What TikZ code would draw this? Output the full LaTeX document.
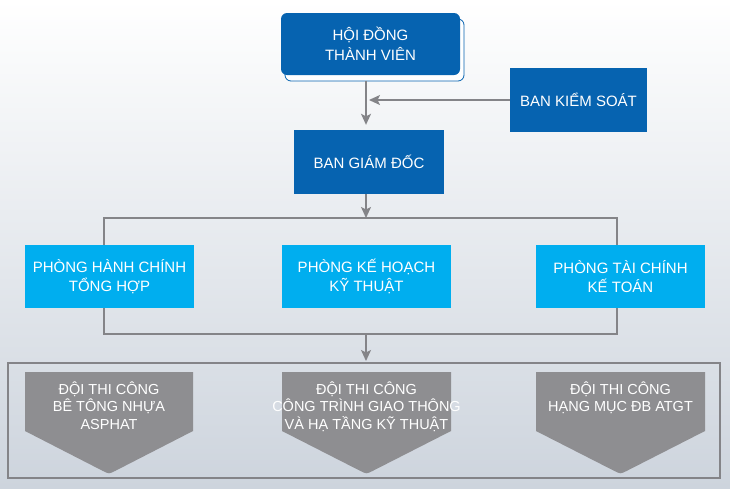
\documentclass[tikz,border=0pt]{standalone}
\usepackage{fontspec}
\setmainfont{Liberation Sans}
\usetikzlibrary{arrows.meta,positioning}
\definecolor{darkblue}{RGB}{6,99,176}
\definecolor{lightblue}{RGB}{0,174,239}
\definecolor{teamgray}{RGB}{142,142,145}
\definecolor{linegray}{RGB}{132,132,136}
\definecolor{bgmid}{RGB}{239,242,246}
\definecolor{bgbottom}{RGB}{205,212,221}
\tikzset{
  boxfont/.style={font=\fontsize{15}{19.5}\selectfont},
  bigbox/.style={boxfont, fill=darkblue, text=white, align=center, inner sep=0pt},
  deptbox/.style={boxfont, fill=lightblue, text=white, align=center, inner sep=0pt,
    minimum width=169pt, minimum height=63pt},
  teamtext/.style={font=\fontsize{14.5}{17.5}\selectfont, text=white, align=center,
    inner sep=0pt, anchor=north},
  frame/.style={draw=linegray, line width=1.2pt},
  arr/.style={draw=linegray, line width=1.4pt,
    -{Stealth[length=11pt,width=10pt,inset=2.5pt]}},
}
\begin{document}
\begin{tikzpicture}[x=1pt,y=-1pt]
  \useasboundingbox (0,0) rectangle (730,488);
  \shade[top color=white, middle color=bgmid, bottom color=bgbottom] (0,0) rectangle (730,488);
  \coordinate (trunk) at (366,0);

  % top level
  \node[draw=darkblue, fill=white, line width=0.8pt, rounded corners=6pt,
    minimum width=179pt, minimum height=62pt] (hdtvbg) at (374.5,50) {};
  \node[bigbox, rounded corners=6pt, minimum width=179pt, minimum height=62pt]
    (hdtv) at (370.5,44) {HỘI ĐỒNG\\THÀNH VIÊN};
  \node[bigbox, minimum width=137pt, minimum height=64pt] (bks) at (578.5,100) {BAN KIỂM SOÁT};
  \node[bigbox, minimum width=150pt, minimum height=64pt] (bgd) at (369,162) {BAN GIÁM ĐỐC};

  \draw[arr, shorten >=5pt] (hdtvbg.south -| trunk) -- (bgd.north -| trunk);
  \draw[arr, shorten >=3pt] (bks.west) -- (bks.west -| trunk);

  % departments
  \coordinate (midtl) at (104,218);
  \coordinate (midbr) at (617,334);
  \draw[frame] (midtl) rectangle (midbr);
  \draw[arr] (bgd.south -| trunk) -- (midtl -| trunk);
  \node[deptbox] (phc) at (109.5,276.5) {PHÒNG HÀNH CHÍNH\\TỔNG HỢP};
  \node[deptbox] (pkh) at (366.5,276.5) {PHÒNG KẾ HOẠCH\\KỸ THUẬT};
  \node[deptbox] (ptc) at (620.5,276.5) {PHÒNG TÀI CHÍNH\\KẾ TOÁN};

  % teams
  \coordinate (lowtl) at (8,363);
  \coordinate (lowbr) at (720,478);
  \draw[frame] (lowtl) rectangle (lowbr);
  \draw[arr, shorten >=2pt] (midbr -| trunk) -- (lowtl -| trunk);

  \fill[teamgray] (25,372) -- (193,372) -- (193,431) -- (115,471) .. controls (109,474) .. (103,471) -- (25,431) -- cycle;
  \fill[teamgray] (282,372) -- (451,372) -- (451,431) -- (372.5,471) .. controls (366.5,474) .. (360.5,471) -- (282,431) -- cycle;
  \fill[teamgray] (536,372) -- (705,372) -- (705,431) -- (626.5,471) .. controls (620.5,474) .. (614.5,471) -- (536,431) -- cycle;
  \node[teamtext] (team1) at (109,381.5) {ĐỘI THI CÔNG\\BÊ TÔNG NHỰA\\ASPHAT};
  \node[teamtext] (team2) at (366.5,381.5) {ĐỘI THI CÔNG\\CÔNG TRÌNH GIAO THÔNG\\VÀ HẠ TẦNG KỸ THUẬT};
  \node[teamtext] (team3) at (620.5,381.5) {ĐỘI THI CÔNG\\HẠNG MỤC ĐB ATGT};
\end{tikzpicture}
\end{document}
